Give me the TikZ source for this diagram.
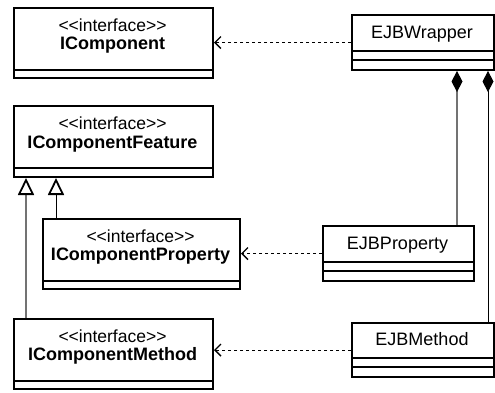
\documentclass[tikz,border=0pt]{standalone}
\usepackage{fontspec}
\setmainfont{Liberation Sans}
\usetikzlibrary{arrows.meta}
\newcommand{\stereotxt}{<{}<interface>{}>}
\begin{document}
\begin{tikzpicture}[x=1pt,y=-1pt,
  box/.style={draw, line width=2pt, inner sep=0pt, outer sep=1pt, anchor=north west},
  sep/.style={line width=2pt},
  stereo/.style={anchor=base, inner sep=0pt, font=\fontsize{17.5}{18}\selectfont},
  cname/.style={anchor=base, inner sep=0pt, font=\fontsize{18}{18}\selectfont\bfseries},
  pname/.style={anchor=base, inner sep=0pt, font=\fontsize{18}{18}\selectfont},
  dep/.style={line width=0.9pt, dash pattern=on 3.5pt off 2.5pt,
    -{Straight Barb[length=6pt,width=12pt,line width=1.4pt]}},
  gen/.style={line width=1pt, -{Triangle[open,length=17pt,width=16pt,line width=1.8pt,color=black]}},
  comp/.style={line width=1pt, -{Diamond[length=21pt,width=11pt,color=black]}},
  lgray/.style={draw=black!55, line width=1.3pt}
]
\useasboundingbox (0,0) rectangle (495,392);

% interface boxes
\node[box, minimum width=199pt, minimum height=70pt] (icomp) at (13,7) {};
\draw[sep] ([yshift=-63pt]icomp.north west) -- ([yshift=-63pt]icomp.north east);
\node[stereo] (icompS) at (112.5,31) {\stereotxt};
\node[cname] (icompN) at (112.5,49.5) {IComponent};

\node[box, minimum width=199pt, minimum height=71pt] (icf) at (13,105) {};
\draw[sep] ([yshift=-63pt]icf.north west) -- ([yshift=-63pt]icf.north east);
\node[stereo] (icfS) at (112.5,129.5) {\stereotxt};
\node[cname] (icfN) at (112.5,148) {IComponentFeature};

\node[box, minimum width=197pt, minimum height=70pt] (icp) at (42,218) {};
\draw[sep] ([yshift=-63pt]icp.north west) -- ([yshift=-63pt]icp.north east);
\node[stereo] (icpS) at (140.5,242) {\stereotxt};
\node[cname] (icpN) at (140.5,260.5) {IComponentProperty};

\node[box, minimum width=199pt, minimum height=70pt] (icm) at (13,318) {};
\draw[sep] ([yshift=-63pt]icm.north west) -- ([yshift=-63pt]icm.north east);
\node[stereo] (icmS) at (112.5,342) {\stereotxt};
\node[cname] (icmN) at (112.5,360.5) {IComponentMethod};

% class boxes
\node[box, minimum width=142pt, minimum height=55pt] (ejbw) at (351,14) {};
\draw[sep] ([yshift=-37pt]ejbw.north west) -- ([yshift=-37pt]ejbw.north east);
\draw[sep] ([yshift=-46pt]ejbw.north west) -- ([yshift=-46pt]ejbw.north east);
\node[pname] (ejbwN) at (422,38.5) {EJBWrapper};

\node[box, minimum width=151pt, minimum height=55pt] (ejbp) at (322,225) {};
\draw[sep] ([yshift=-37pt]ejbp.north west) -- ([yshift=-37pt]ejbp.north east);
\draw[sep] ([yshift=-46pt]ejbp.north west) -- ([yshift=-46pt]ejbp.north east);
\node[pname] (ejbpN) at (397.5,249.5) {EJBProperty};

\node[box, minimum width=142pt, minimum height=54pt] (ejbm) at (351,322) {};
\draw[sep] ([yshift=-36pt]ejbm.north west) -- ([yshift=-36pt]ejbm.north east);
\draw[sep] ([yshift=-45pt]ejbm.north west) -- ([yshift=-45pt]ejbm.north east);
\node[pname] (ejbmN) at (422,345.5) {EJBMethod};

% dependencies
\draw[dep] (ejbw.west) -- (icomp.east |- ejbw.west);
\draw[dep] (ejbp.west) -- (icp.east |- ejbp.west);
\draw[dep] (ejbm.west) -- (icm.east |- ejbm.west);

% generalizations
\draw[gen, draw=black] ([xshift=14pt]icp.north west) -- ([xshift=43pt]icf.south west);
\draw[gen, lgray] ([xshift=13pt]icm.north west) -- ([xshift=13pt]icf.south west);

% compositions
\draw[comp, lgray] ([xshift=135pt]ejbp.north west) -- ([xshift=106pt]ejbw.south west);
\draw[comp, draw=black] ([xshift=137pt]ejbm.north west) -- ([xshift=137pt]ejbw.south west);
\end{tikzpicture}
\end{document}
